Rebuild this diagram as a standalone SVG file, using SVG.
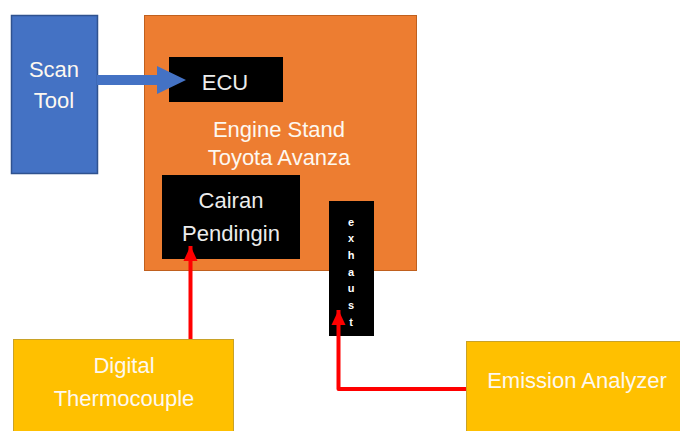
<svg xmlns="http://www.w3.org/2000/svg" width="680" height="431" viewBox="0 0 680 431">
<defs>
<style>
.lbl{font-family:"Liberation Sans",Arial,sans-serif;font-size:22px;fill:#fdf8f0;text-anchor:middle}
.dk{font-family:"Liberation Sans",Arial,sans-serif;font-size:22px;fill:#ececec;text-anchor:middle}
.ex{font-family:"Liberation Sans",Arial,sans-serif;font-size:11px;font-weight:bold;fill:#ffffff;text-anchor:middle}
.red{fill:none;stroke:#ff0000;stroke-width:4;stroke-linejoin:round}
</style>
<marker id="rh" markerUnits="userSpaceOnUse" markerWidth="16" markerHeight="16" viewBox="0 0 16 16" refX="15" refY="8" orient="auto">
<path d="M0,1 L15,8 L0,15 Z" fill="#ff0000"/>
</marker>
</defs>
<rect width="680" height="431" fill="#ffffff"/>
<g id="engine-stand">
<rect x="144.5" y="15.5" width="272" height="255" fill="#ED7D31" stroke="#C0601E" stroke-width="1"/>
<text class="lbl" x="279" y="137">Engine Stand</text>
<text class="lbl" x="279" y="165">Toyota Avanza</text>
</g>
<g id="scan-tool">
<rect x="11.5" y="15.5" width="86" height="158" fill="#4472C4" stroke="#2F528F" stroke-width="1.5"/>
<text class="lbl" x="54" y="77">Scan</text>
<text class="lbl" x="54" y="108">Tool</text>
</g>
<g id="ecu">
<rect x="169" y="57" width="114" height="45" fill="#000000"/>
<text class="dk" x="225" y="90">ECU</text>
</g>
<g id="cairan-pendingin">
<rect x="162" y="175" width="138" height="84" fill="#000000"/>
<text class="dk" x="231" y="208">Cairan</text>
<text class="dk" x="231" y="241">Pendingin</text>
</g>
<g id="exhaust">
<rect x="329" y="201" width="45" height="135" fill="#000000"/>
<text class="ex" x="351" y="226">e</text>
<text class="ex" x="351" y="242">x</text>
<text class="ex" x="351" y="259">h</text>
<text class="ex" x="351" y="276">a</text>
<text class="ex" x="351" y="292">u</text>
<text class="ex" x="351" y="309">s</text>
<text class="ex" x="351" y="326">t</text>
</g>
<g id="digital-thermocouple">
<rect x="13.5" y="339.5" width="220" height="100" fill="#FFC000" stroke="#C9A227" stroke-width="1"/>
<text class="lbl" x="124" y="373">Digital</text>
<text class="lbl" x="124" y="406">Thermocouple</text>
</g>
<g id="emission-analyzer">
<rect x="466.5" y="341.5" width="220" height="100" fill="#FFC000" stroke="#C9A227" stroke-width="1"/>
<text class="lbl" x="577" y="388">Emission Analyzer</text>
</g>
<g id="connectors">
<polygon points="97,75 157,75 157,66 186,80 157,94 157,85 97,85" fill="#4472C4"/>
<path class="red" d="M190.5,339 L190.5,246" marker-end="url(#rh)"/>
<path class="red" d="M466,389 L338.5,389 L338.5,310" marker-end="url(#rh)"/>
</g>
</svg>
